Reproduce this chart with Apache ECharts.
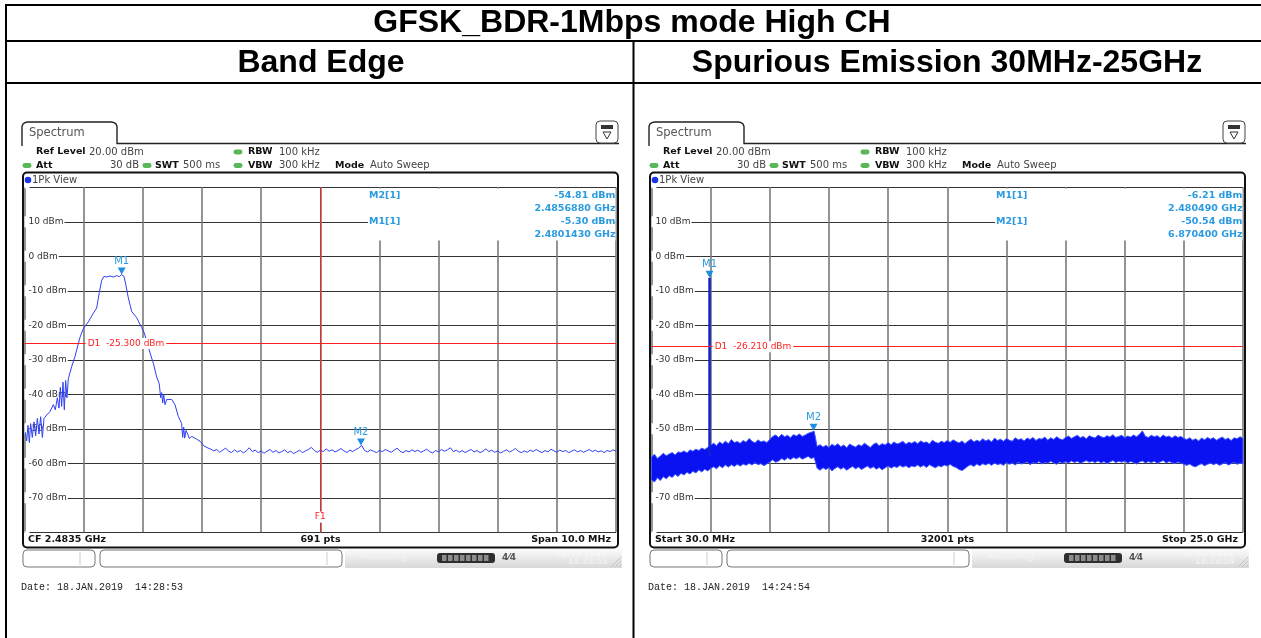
<!DOCTYPE html>
<html>
<head>
<meta charset="utf-8">
<title>GFSK_BDR-1Mbps mode High CH</title>
<script src="https://cdn.jsdelivr.net/npm/echarts@6.0.0/dist/echarts.min.js"></script>
<style>
html,body{margin:0;padding:0;background:#ffffff;}
#chart{width:1261px;height:638px;}
</style>
</head>
<body>
<div id="chart"></div>
<script>
// ---------------- data ----------------
const pageTitle = 'GFSK_BDR-1Mbps mode High CH';
const panelTitles = ['Band Edge', 'Spurious Emission 30MHz-25GHz'];
const levelMinDbm = -80, levelMaxDbm = 20, levelStepDb = 10;

// Band edge trace: x = offset from 2.4785 GHz in MHz (span 10 MHz)
const bandEdgeSkirtMHz = [0.014,0.037,0.059,0.082,0.104,0.132,0.161,0.189,0.217,0.245,0.273,0.302,0.330,0.375,0.431,0.487,0.521,0.555,0.583,0.606,0.628,0.651,0.673,0.696,0.718,0.741,0.797,0.854,0.938,0.994,1.079,1.164,1.220,1.265,1.305,1.344,1.389,1.445,1.502,1.558,1.603,1.643,1.682,1.716,1.755,1.812,1.897,1.981,2.020,2.066,2.122,2.178,2.235,2.279,2.302,2.319,2.336,2.353,2.375,2.404,2.489,2.544,2.600,2.657,2.674,2.691,2.708,2.730,2.759,2.786,2.827,2.911,2.967,3.035,3.107];
const bandEdgeSkirtDbm = [-51,-53.5,-49,-54,-48.5,-52.5,-48,-52,-47,-51.5,-46.5,-52.5,-47,-46,-45,-43,-44.5,-41,-44,-38,-43.5,-36.5,-44.5,-36,-41,-35.5,-32,-29,-23.5,-21,-19,-16.5,-15,-10.5,-7,-5.8,-6,-5.7,-6,-5.6,-5.9,-5.3,-5.8,-8.5,-12,-16,-17.8,-20.7,-22,-24.6,-28,-31,-35,-37,-41,-39.5,-42.5,-40,-43,-41.5,-41.5,-43,-46.4,-48.5,-52.5,-49.5,-52.7,-50.5,-51.5,-52.8,-52.2,-53,-53.6,-55,-55.6];
const bandEdgeFloorStartMHz = 3.15;
const bandEdgeFloorStepMHz = 0.05;
const bandEdgeFloorDbm = [
-55.9,-56.4,-56.0,-56.8,-56.2,-55.6,-56.5,-56.9,-56.1,-56.7,
-56.3,-57.0,-56.4,-55.5,-56.6,-56.2,-56.9,-56.4,-57.1,-56.5,
-56.0,-56.8,-56.3,-57.0,-56.6,-56.1,-56.9,-56.5,-57.2,-56.7,
-56.2,-56.9,-56.4,-56.0,-55.4,-56.3,-56.8,-56.2,-56.6,-55.8,
-56.5,-56.1,-56.7,-56.3,-55.7,-56.4,-56.9,-56.2,-56.6,-56.0,
-55.6,-54.8,-56.3,-56.7,-56.1,-56.5,-56.9,-56.3,-56.6,-56.0,
-56.4,-56.8,-56.2,-55.6,-56.5,-56.9,-56.3,-56.7,-56.1,-56.6,
-56.2,-56.8,-56.4,-55.9,-56.6,-57.0,-56.3,-56.7,-56.0,-56.5,
-56.1,-55.5,-56.6,-56.2,-56.8,-56.3,-56.9,-56.4,-56.0,-56.7,
-56.3,-56.9,-56.5,-55.8,-56.6,-56.2,-56.8,-56.4,-57.0,-56.5,
-56.1,-56.7,-56.3,-55.7,-56.5,-56.9,-56.4,-56.8,-56.2,-56.6,
-56.0,-56.5,-56.9,-56.3,-56.7,-55.9,-56.4,-56.8,-56.2,-56.6,
-56.3,-56.9,-56.5,-56.1,-56.7,-56.3,-56.8,-56.4,-56.0,-56.6,
-56.2,-56.7,-56.4,-56.9,-56.3,-56.6,-56.1,-56.5];
const bandEdgeSpanMHz = 10;
const bandEdgeMarkerNames = ['M1', 'M2'];
const bandEdgeMarkerMHz = [1.643, 5.688];
const bandEdgeMarkerDbm = [-5.30, -54.81];
const bandEdgeD1Dbm = -25.3;
const bandEdgeF1MHz = 5.0;

// Spurious trace: x = offset from 30 MHz in GHz (span 24.97 GHz), peak-hold envelope per column
const spurSpanGHz = 24.97;
const spurEnvelopeMaxDbm = [
-58.2,-57.4,-58.6,-57.9,-57.1,-57.8,-57.3,-56.9,-57.6,-56.7,
-56.9,-56.4,-57.0,-56.1,-56.5,-55.9,-56.3,-55.6,-56.0,-55.4,
-54.8,-54.2,-54.9,-53.8,-54.4,-53.6,-54.3,-53.1,-54.0,-53.7,
-54.2,-53.4,-53.9,-52.8,-53.6,-54.1,-53.2,-53.8,-53.5,-54.0,
-53.1,-52.2,-51.8,-52.5,-51.6,-52.3,-51.9,-52.6,-51.7,-52.1,
-51.5,-52.2,-51.8,-51.3,-51.0,-50.7,-55.1,-54.6,-55.3,-54.8,
-55.4,-54.5,-55.0,-54.3,-55.2,-54.7,-55.5,-54.4,-54.9,-55.3,
-54.6,-55.0,-54.2,-54.8,-55.4,-54.5,-54.1,-54.9,-54.3,-54.7,
-54.0,-54.6,-53.8,-54.4,-54.1,-53.6,-54.5,-53.9,-54.2,-53.7,
-54.3,-53.5,-54.0,-53.8,-54.4,-53.3,-53.9,-54.2,-53.6,-54.0,
-53.4,-53.9,-53.2,-53.7,-54.1,-53.5,-54.3,-53.6,-53.0,-53.8,
-53.3,-53.7,-52.9,-53.5,-53.1,-53.8,-52.7,-53.4,-53.0,-53.6,
-52.8,-53.3,-53.6,-52.6,-53.2,-52.9,-53.5,-52.7,-53.1,-52.5,
-53.4,-52.8,-53.0,-52.4,-53.3,-52.6,-53.1,-52.3,-52.9,-53.2,
-52.5,-52.1,-52.8,-52.3,-51.9,-52.6,-52.2,-52.9,-52.0,-52.4,
-52.7,-51.8,-52.3,-52.6,-52.0,-52.4,-51.7,-52.5,-52.2,-51.9,
-52.6,-52.1,-52.4,-51.8,-52.3,-51.6,-50.6,-52.2,-52.5,-51.9,
-52.3,-52.0,-52.6,-51.8,-52.4,-52.1,-52.7,-52.0,-52.5,-52.2,
-52.8,-53.1,-52.6,-53.3,-52.9,-53.5,-52.7,-53.2,-52.5,-53.0,
-52.6,-53.3,-52.8,-52.4,-53.1,-52.7,-53.4,-52.6,-52.9,-52.3,-52.8];
const spurEnvelopeMinDbm = [
-64.8,-65.4,-64.2,-65.0,-63.9,-64.5,-63.6,-64.1,-63.2,-63.8,
-62.9,-63.4,-62.6,-63.1,-62.3,-62.8,-61.9,-62.5,-61.7,-62.2,
-61.5,-61.0,-61.6,-60.7,-61.3,-60.5,-61.1,-60.4,-60.9,-60.3,
-60.8,-60.2,-60.6,-60.0,-60.5,-59.8,-60.4,-60.1,-60.7,-60.2,
-59.6,-59.0,-59.7,-59.3,-58.6,-59.1,-58.4,-58.9,-58.3,-58.7,
-58.2,-58.8,-58.4,-58.0,-58.6,-58.3,-61.4,-62.0,-61.3,-61.8,
-61.2,-62.2,-61.5,-61.0,-61.7,-61.2,-62.0,-61.4,-60.9,-61.6,
-61.1,-61.8,-61.3,-60.8,-61.5,-61.0,-61.7,-61.2,-61.9,-61.3,
-60.8,-61.4,-60.9,-61.2,-60.6,-61.1,-60.7,-61.3,-60.8,-61.0,
-60.5,-61.1,-60.6,-61.2,-60.4,-60.9,-61.3,-60.7,-61.0,-60.5,
-60.8,-60.3,-60.9,-61.2,-61.8,-62.1,-61.5,-60.8,-60.4,-60.9,
-60.2,-60.7,-60.1,-60.5,-60.0,-60.6,-59.9,-60.4,-60.1,-60.6,
-59.8,-60.3,-59.9,-60.5,-59.7,-60.2,-60.0,-59.6,-60.4,-59.8,
-60.1,-59.5,-60.2,-59.7,-60.0,-59.4,-59.9,-60.3,-59.6,-60.0,
-59.5,-59.9,-59.3,-59.8,-59.4,-60.0,-59.6,-59.2,-59.7,-59.4,
-59.8,-59.3,-59.9,-59.5,-60.1,-59.6,-59.2,-59.8,-59.4,-59.7,
-59.3,-59.9,-59.5,-59.8,-60.2,-59.6,-59.3,-59.9,-59.5,-59.8,
-59.4,-60.0,-59.6,-59.2,-59.9,-59.5,-59.8,-60.1,-59.6,-59.9,
-60.3,-60.6,-60.2,-60.8,-61.0,-60.5,-60.1,-60.7,-60.3,-59.9,
-60.4,-60.0,-60.6,-60.2,-59.8,-60.5,-60.1,-59.7,-60.3,-59.9,-60.2];
const spurCarrierGHz = 2.45049;
const spurCarrierDbm = -6.21;
const spurCarrierBaseDbm = -58.0;
const spurMarkerNames = ['M1', 'M2'];
const spurMarkerGHz = [2.45049, 6.8404];
const spurMarkerDbm = [-6.21, -50.54];
const spurD1Dbm = -26.21;

// texts
const panelDates = ['Date: 18.JAN.2019  14:28:53', 'Date: 18.JAN.2019  14:24:54'];
const panelClocks = ['14:28:53', '14:24:54'];
const panelFooters = [['CF 2.4835 GHz', '691 pts', 'Span 10.0 MHz'], ['Start 30.0 MHz', '32001 pts', 'Stop 25.0 GHz']];
const panelMarkerInfo = [
  [['M2[1]', '-54.81 dBm', '2.4856880 GHz'], ['M1[1]', '-5.30 dBm', '2.4801430 GHz']],
  [['M1[1]', '-6.21 dBm', '2.480490 GHz'], ['M2[1]', '-50.54 dBm', '6.870400 GHz']]
];
const panelD1Labels = ['D1  -25.300 dBm', 'D1  -26.210 dBm'];

// ---------------- build ----------------
const FONT = 'DejaVu Sans';
const MK_TXT = '#2a9be0';
const MK_SYM = '#1e8fe0';
const RED = '#ff1f1f';
const TRACE = '#2f3ff2';

function T(x, y, text, o) {
  o = o || {};
  const a = o.align || 'left';
  return {
    type: 'text', x: x, y: y, z: o.z || 10, silent: true,
    style: {
      text: text, fill: o.fill || '#333', fontSize: o.size || 10,
      fontWeight: o.weight || 'normal', fontFamily: o.family || FONT,
      textAlign: a, align: a, textVerticalAlign: 'middle', verticalAlign: 'middle'
    }
  };
}
function LN(x1, y1, x2, y2, c, w, z) {
  return { type: 'line', silent: true, z: z || 10, shape: { x1: x1, y1: y1, x2: x2, y2: y2 }, style: { stroke: c, lineWidth: w } };
}
function dot(cx, cy, ox) {
  return { type: 'rect', silent: true, z: 10, shape: { x: cx + ox - 4.5, y: cy - 2.4, width: 9, height: 4.8, r: 2.4 }, style: { fill: '#58b858' } };
}

function panel(ox, idx) {
  const E = [];
  const B = { weight: 'bold', fill: '#111', size: 9.5 };
  const N = { fill: '#444', size: 10 };
  E.push({ type: 'polyline', silent: true, z: 10,
    shape: { points: [[22 + ox, 146], [22 + ox, 126.5], [23 + ox, 124], [25 + ox, 122.6], [27.5 + ox, 122], [111.5 + ox, 122], [114 + ox, 122.6], [116 + ox, 124], [117 + ox, 126.5], [117 + ox, 143.5], [619 + ox, 143.5]] },
    style: { fill: 'none', stroke: '#222', lineWidth: 1.4 } });
  E.push(T(29 + ox, 133, 'Spectrum', { fill: '#555', size: 11.5 }));
  E.push({ type: 'rect', silent: true, z: 10, shape: { x: 596 + ox, y: 121, width: 22, height: 22, r: 4 }, style: { fill: '#fff', stroke: '#444', lineWidth: 1 } });
  E.push({ type: 'rect', silent: true, z: 11, shape: { x: 601 + ox, y: 125, width: 12, height: 4 }, style: { fill: '#333' } });
  E.push({ type: 'polygon', silent: true, z: 11, shape: { points: [[603 + ox, 132], [611 + ox, 132], [607 + ox, 139]] }, style: { fill: 'none', stroke: '#333', lineWidth: 1 } });
  // header rows
  E.push(T(36 + ox, 152, 'Ref Level', B));
  E.push(T(89 + ox, 152, '20.00 dBm', N));
  E.push(dot(238, 152, ox));
  E.push(T(248 + ox, 152, 'RBW', B));
  E.push(T(279 + ox, 152, '100 kHz', N));
  E.push(dot(27, 165.5, ox));
  E.push(T(36 + ox, 165.5, 'Att', B));
  E.push(T(139 + ox, 165.5, '30 dB', Object.assign({ align: 'right' }, N)));
  E.push(dot(147, 165.5, ox));
  E.push(T(155 + ox, 165.5, 'SWT', B));
  E.push(T(183 + ox, 165.5, '500 ms', N));
  E.push(dot(238, 165.5, ox));
  E.push(T(248 + ox, 165.5, 'VBW', B));
  E.push(T(279 + ox, 165.5, '300 kHz', N));
  E.push(T(335 + ox, 165.5, 'Mode', B));
  E.push(T(370 + ox, 165.5, 'Auto Sweep', N));
  // inner frame
  E.push({ type: 'rect', silent: true, z: 10, shape: { x: 23 + ox, y: 172.5, width: 595, height: 375, r: 4 }, style: { fill: 'none', stroke: '#111', lineWidth: 2 } });
  E.push({ type: 'circle', silent: true, z: 10, shape: { cx: 28 + ox, cy: 180, r: 3.3 }, style: { fill: '#1b35e6' } });
  E.push(T(32 + ox, 180, '1Pk View', { fill: '#444', size: 10 }));
  // footer
  const F = panelFooters[idx];
  E.push(T(28 + ox, 540, F[0], { weight: 'bold', fill: '#111', size: 9.5 }));
  E.push(T(320.5 + ox, 540, F[1], { weight: 'bold', fill: '#111', size: 9.5, align: 'center' }));
  E.push(T(611 + ox, 540, F[2], { weight: 'bold', fill: '#111', size: 9.5, align: 'right' }));
  // marker info box
  E.push({ type: 'rect', silent: true, z: 5, shape: { x: 368 + ox, y: 188.5, width: 247.5, height: 52 }, style: { fill: '#fff' } });
  const MI = panelMarkerInfo[idx];
  const rowsY = [[196, 209], [221.7, 234.4]];
  for (let k = 0; k < 2; k++) {
    E.push(T(369 + ox, rowsY[k][0], MI[k][0], { weight: 'bold', fill: MK_TXT, size: 9.5 }));
    E.push(T(615.5 + ox, rowsY[k][0], MI[k][1], { weight: 'bold', fill: MK_TXT, size: 9.5, align: 'right' }));
    E.push(T(615.5 + ox, rowsY[k][1], MI[k][2], { weight: 'bold', fill: MK_TXT, size: 9.5, align: 'right' }));
  }
  // status bar
  E.push({ type: 'rect', silent: true, z: 10, shape: { x: 23 + ox, y: 550, width: 72, height: 17, r: 4 }, style: { fill: '#fff', stroke: '#777', lineWidth: 1 } });
  E.push(LN(80 + ox, 552, 80 + ox, 565, '#ccc', 1));
  E.push({ type: 'rect', silent: true, z: 10, shape: { x: 100 + ox, y: 550, width: 242, height: 17, r: 4 }, style: { fill: '#fff', stroke: '#777', lineWidth: 1 } });
  E.push(LN(327 + ox, 552, 327 + ox, 565, '#ccc', 1));
  E.push({ type: 'rect', silent: true, z: 9, shape: { x: 345 + ox, y: 549, width: 277, height: 19 },
    style: { fill: { type: 'linear', x: 0, y: 0, x2: 0, y2: 1, colorStops: [{ offset: 0, color: '#fbfbfb' }, { offset: 1, color: '#d8d8d8' }] } } });
  E.push(T(360 + ox, 557, 'Measuring...', { fill: '#f3f3f3', size: 9 }));
  E.push({ type: 'rect', silent: true, z: 10, shape: { x: 437 + ox, y: 553, width: 58, height: 10, r: 3 }, style: { fill: '#2e2e2e' } });
  for (let s = 0; s < 8; s++) {
    E.push({ type: 'rect', silent: true, z: 11, shape: { x: 442 + s * 6 + ox, y: 555, width: 4.5, height: 6 }, style: { fill: '#8c8c8c' } });
  }
  E.push(T(502 + ox, 558, '4⁄4', { fill: '#555', size: 9, weight: 'bold' }));
  E.push(T(556 + ox, 554, '18.01.2019', { fill: '#f6f6f6', size: 8, weight: 'bold' }));
  E.push(T(568 + ox, 562, panelClocks[idx], { fill: '#f0f0f0', size: 8, weight: 'bold' }));
  E.push(LN(611 + ox, 567, 621 + ox, 557, '#c4c4c4', 1));
  E.push(LN(615 + ox, 567, 621 + ox, 561, '#c4c4c4', 1));
  E.push(LN(619 + ox, 567, 621 + ox, 565, '#c4c4c4', 1));
  // date
  E.push(T(21 + ox, 587, panelDates[idx], { family: 'Liberation Mono', size: 10, fill: '#222' }));
  return E;
}

// table + titles
const tableEls = [
  LN(6, 5, 1261, 5, '#000', 2),
  LN(6, 41, 1261, 41, '#000', 2),
  LN(6, 83, 1261, 83, '#000', 2),
  LN(6, 4, 6, 638, '#000', 2),
  LN(633.5, 41, 633.5, 638, '#000', 2),
  T(632, 23.5, pageTitle, { weight: 'bold', size: 32, family: 'Liberation Sans', fill: '#000', align: 'center' }),
  T(321, 63, panelTitles[0], { weight: 'bold', size: 32, family: 'Liberation Sans', fill: '#000', align: 'center' }),
  T(947, 63, panelTitles[1], { weight: 'bold', size: 32, family: 'Liberation Sans', fill: '#000', align: 'center' })
];

// series data
const bandEdgeData = bandEdgeSkirtMHz.map((f, i) => [f, bandEdgeSkirtDbm[i]])
  .concat(bandEdgeFloorDbm.map((v, i) => [+(bandEdgeFloorStartMHz + i * bandEdgeFloorStepMHz).toFixed(3), v]));
const spurN = spurEnvelopeMaxDbm.length;
const spurData = spurEnvelopeMaxDbm.map((h, i) => [i * spurSpanGHz / (spurN - 1), h, spurEnvelopeMinDbm[i]]);

function mkX(grid, max) {
  return { gridIndex: grid, type: 'value', min: 0, max: max, interval: max / 10,
    axisLine: { show: false }, axisTick: { show: false }, axisLabel: { show: false },
    splitLine: { show: true, lineStyle: { color: '#7a7a7a', width: 1.6 } } };
}
function mkYLines(grid) {
  return { gridIndex: grid, type: 'value', position: 'left', min: levelMinDbm, max: levelMaxDbm, interval: levelStepDb,
    axisLine: { show: false }, axisTick: { show: false }, axisLabel: { show: false },
    splitLine: { show: true, lineStyle: { color: '#333333', width: 1 } }, z: 0 };
}
function mkYLabels(grid) {
  return { gridIndex: grid, type: 'value', position: 'left', min: levelMinDbm, max: levelMaxDbm, interval: levelStepDb, z: 1,
    axisLine: { show: false }, axisTick: { show: false }, splitLine: { show: false },
    axisLabel: { inside: true, margin: 0, color: '#333', fontSize: 9, fontFamily: FONT,
      backgroundColor: '#fff', padding: [1, 1, 1, 4],
      formatter: v => (v >= levelMaxDbm || v <= levelMinDbm) ? '' : v + ' dBm' } };
}
function markerPoints(names, xs, ys) {
  return names.map((n, i) => ({
    name: n, coord: [xs[i], ys[i]], symbol: 'triangle', symbolRotate: 180, symbolSize: [8, 7], symbolOffset: [0, -3.5],
    itemStyle: { color: MK_SYM },
    label: { show: true, position: 'top', distance: 1, formatter: n, color: MK_TXT, fontSize: 10, fontFamily: FONT }
  }));
}
function textPoint(x, y, text, pos) {
  return { coord: [x, y], symbol: 'rect', symbolSize: 1, itemStyle: { color: 'rgba(0,0,0,0)' },
    label: { show: true, position: pos, distance: 1.5, formatter: text, color: RED, fontSize: 9, fontFamily: FONT,
      backgroundColor: '#fff', padding: [1, 2] } };
}

const option = {
  animation: false,
  backgroundColor: '#ffffff',
  grid: [
    { left: 24.5, top: 187.3, width: 591.5, height: 345 },
    { left: 651.5, top: 187.3, width: 591.5, height: 345 }
  ],
  xAxis: [mkX(0, bandEdgeSpanMHz), mkX(1, spurSpanGHz)],
  yAxis: [mkYLines(0), mkYLabels(0), mkYLines(1), mkYLabels(1)],
  series: [
    {
      type: 'line', xAxisIndex: 0, yAxisIndex: 0, data: bandEdgeData, symbol: 'none', silent: true, z: 2,
      lineStyle: { color: TRACE, width: 1 },
      markLine: { silent: true, symbol: ['none', 'none'], label: { show: false },
        lineStyle: { color: RED, width: 1, type: 'solid' },
        data: [{ yAxis: bandEdgeD1Dbm }, { xAxis: bandEdgeF1MHz }] },
      markPoint: { silent: true,
        data: markerPoints(bandEdgeMarkerNames, bandEdgeMarkerMHz, bandEdgeMarkerDbm)
          .concat([textPoint(bandEdgeSpanMHz / 10, bandEdgeD1Dbm, panelD1Labels[0], 'right'),
                   textPoint(bandEdgeF1MHz, -75.6, 'F1', 'inside')]) }
    },
    {
      type: 'custom', xAxisIndex: 1, yAxisIndex: 2, data: spurData, silent: true, z: 2,
      encode: { x: 0, y: [1, 2] },
      renderItem: function (params, api) {
        if (params.dataIndex !== 0) return null;
        const top = [], bot = [];
        for (let j = 0; j < spurN; j++) {
          const x = api.value(0, j);
          top.push(api.coord([x, api.value(1, j)]));
          bot.push(api.coord([x, api.value(2, j)]));
        }
        return { type: 'polygon', shape: { points: top.concat(bot.reverse()) },
          style: { fill: '#0b12f2', stroke: '#4058ff', lineWidth: 1 } };
      }
    },
    {
      type: 'line', xAxisIndex: 1, yAxisIndex: 2, symbol: 'none', silent: true, z: 3,
      data: [[spurCarrierGHz, spurCarrierBaseDbm], [spurCarrierGHz, spurCarrierDbm]],
      lineStyle: { color: '#1020d0', width: 2.5 },
      markLine: { silent: true, symbol: ['none', 'none'], label: { show: false },
        lineStyle: { color: RED, width: 1, type: 'solid' }, data: [{ yAxis: spurD1Dbm }] },
      markPoint: { silent: true,
        data: markerPoints(spurMarkerNames, spurMarkerGHz, spurMarkerDbm)
          .concat([textPoint(spurSpanGHz / 10, spurD1Dbm, panelD1Labels[1], 'right')]) }
    }
  ],
  graphic: { elements: tableEls.concat(panel(0, 0), panel(627, 1)) }
};

const chart = echarts.init(document.getElementById('chart'), null, { renderer: 'canvas', width: 1261, height: 638 });
chart.setOption(option);
</script>
</body>
</html>
